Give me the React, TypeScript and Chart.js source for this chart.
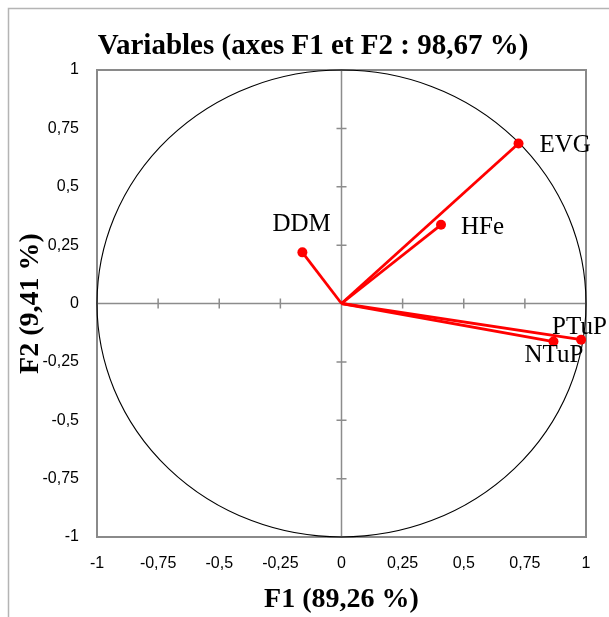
import React, { useEffect, useRef } from "react";
import { Chart, registerables } from "chart.js";

Chart.register(...registerables);

const variables = ["EVG", "HFe", "DDM", "PTuP", "NTuP"];
const f1Values = [0.724, 0.407, -0.16, 0.98, 0.867];
const f2Values = [0.685, 0.337, 0.219, -0.155, -0.163];
const tickValues = [-1, -0.75, -0.5, -0.25, 0, 0.25, 0.5, 0.75, 1];

const chartTitle = "Variables (axes F1 et F2 : 98,67 %)";
const xTitle = "F1 (89,26 %)";
const yTitle = "F2 (9,41 %)";

// label offsets (pixels) relative to each point: [dx, dy]
const labelOffsets: Record<string, [number, number]> = {
  EVG: [21, 2],
  HFe: [20, 3],
  DDM: [-30, -28],
  PTuP: [-29, -12],
  NTuP: [-29, 14],
};

const RED = "#ff0000";

const fmt = (v: number) => String(v).replace(".", ",");

const decorPlugin = {
  id: "decor",
  beforeDraw(chart: any) {
    const { ctx } = chart;
    ctx.save();
    ctx.fillStyle = "#ffffff";
    ctx.fillRect(0, 0, chart.width, chart.height);
    // outer frame
    ctx.strokeStyle = "#b4b4b4";
    ctx.lineWidth = 1.5;
    ctx.strokeRect(8.5, 8.5, chart.width + 20, chart.height + 20);
    // title
    ctx.fillStyle = "#000";
    ctx.font = "bold 29px 'Liberation Serif', 'Times New Roman', serif";
    ctx.textAlign = "center";
    ctx.textBaseline = "middle";
    ctx.fillText(chartTitle, 313, 47);
    ctx.restore();
  },
  beforeDatasetsDraw(chart: any) {
    const { ctx, chartArea, scales } = chart;
    const xs = scales.x;
    const ys = scales.y;
    const cx = xs.getPixelForValue(0);
    const cy = ys.getPixelForValue(0);
    ctx.save();
    // plot border
    ctx.strokeStyle = "#8a8a8a";
    ctx.lineWidth = 2;
    ctx.strokeRect(
      chartArea.left,
      chartArea.top,
      chartArea.right - chartArea.left,
      chartArea.bottom - chartArea.top
    );
    // central axes
    ctx.strokeStyle = "#8c8c8c";
    ctx.lineWidth = 1.5;
    ctx.beginPath();
    ctx.moveTo(chartArea.left, cy);
    ctx.lineTo(chartArea.right, cy);
    ctx.moveTo(cx, chartArea.top);
    ctx.lineTo(cx, chartArea.bottom);
    for (const t of tickValues) {
      const px = xs.getPixelForValue(t);
      ctx.moveTo(px, cy - 5);
      ctx.lineTo(px, cy + 5);
      const py = ys.getPixelForValue(t);
      ctx.moveTo(cx - 5, py);
      ctx.lineTo(cx + 5, py);
    }
    ctx.stroke();
    // correlation circle
    const rx = xs.getPixelForValue(1) - cx;
    const ry = cy - ys.getPixelForValue(1);
    ctx.strokeStyle = "#000";
    ctx.lineWidth = 1.1;
    ctx.beginPath();
    ctx.ellipse(cx, cy, rx, ry, 0, 0, Math.PI * 2);
    ctx.stroke();
    ctx.restore();
  },
  afterDatasetsDraw(chart: any) {
    const { ctx, scales } = chart;
    ctx.save();
    ctx.fillStyle = "#000";
    ctx.font = "25px 'Liberation Serif', 'Times New Roman', serif";
    ctx.textAlign = "left";
    ctx.textBaseline = "middle";
    variables.forEach((name, i) => {
      const px = scales.x.getPixelForValue(f1Values[i]);
      const py = scales.y.getPixelForValue(f2Values[i]);
      const [dx, dy] = labelOffsets[name];
      ctx.fillText(name, px + dx, py + dy);
    });
    ctx.restore();
  },
};

export default function App() {
  const canvasRef = useRef<HTMLCanvasElement | null>(null);

  useEffect(() => {
    if (!canvasRef.current) return;
    const datasets = variables.map((name, i) => ({
      label: name,
      data: [
        { x: 0, y: 0 },
        { x: f1Values[i], y: f2Values[i] },
      ],
      showLine: true,
      borderColor: RED,
      backgroundColor: RED,
      borderWidth: 2.8,
      pointRadius: [0, 5],
      pointHoverRadius: [0, 5],
      pointBorderWidth: 0,
    }));
    const tickFont = { family: "'Liberation Sans', Arial, sans-serif", size: 16 };
    const titleFont = {
      family: "'Liberation Serif', 'Times New Roman', serif",
      size: 28,
      weight: "bold" as const,
    };
    const chart = new Chart(canvasRef.current, {
      type: "scatter",
      data: { datasets },
      options: {
        responsive: false,
        animation: false,
        events: [],
        layout: { padding: { top: 70, right: 23, left: 0, bottom: 0 } },
        plugins: {
          legend: { display: false },
          title: { display: false },
          tooltip: { enabled: false },
        },
        scales: {
          x: {
            type: "linear",
            min: -1,
            max: 1,
            afterFit: (s: any) => {
              s.height = 80;
            },
            afterBuildTicks: (s: any) => {
              s.ticks = tickValues.map((v) => ({ value: v }));
            },
            grid: { display: false, drawTicks: false },
            border: { display: false },
            ticks: {
              color: "#000",
              font: tickFont,
              padding: 17,
              maxRotation: 0,
              callback: (v: any) => fmt(Number(v)),
            },
            title: {
              display: true,
              text: xTitle,
              color: "#000",
              font: titleFont,
              padding: { top: 0, bottom: 0 },
            },
          },
          y: {
            type: "linear",
            min: -1,
            max: 1,
            afterFit: (s: any) => {
              s.width = 97;
            },
            afterBuildTicks: (s: any) => {
              s.ticks = tickValues.map((v) => ({ value: v }));
            },
            grid: { display: false, drawTicks: false },
            border: { display: false },
            ticks: {
              color: "#000",
              font: tickFont,
              padding: 18,
              callback: (v: any) => fmt(Number(v)),
            },
            title: {
              display: true,
              text: yTitle,
              color: "#000",
              font: titleFont,
              padding: { top: 14, bottom: 0 },
            },
          },
        },
      },
      plugins: [decorPlugin],
    });
    return () => chart.destroy();
  }, []);

  return (
    <div style={{ position: "fixed", left: 0, top: 0, width: 609, height: 617 }}>
      <canvas ref={canvasRef} width={609} height={617} style={{ display: "block" }} />
    </div>
  );
}
